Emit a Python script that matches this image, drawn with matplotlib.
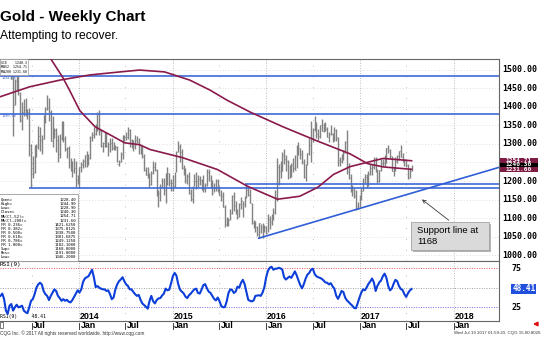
import numpy as np
import pandas as pd
import matplotlib
matplotlib.use('Agg')
import matplotlib.pyplot as plt
import matplotlib.dates as mdates
from matplotlib.patches import Rectangle
from matplotlib.transforms import blended_transform_factory as blend

plt.rcParams['font.family'] = ['Liberation Sans', 'DejaVu Sans']
MONO = 'DejaVu Sans Mono'

W, H = 550, 341

# weekly gold bars, weeks ending on Fridays, first one 2013-03-01
first_week = '2013-03-01'
highs = [
    1620, 1590, 1597, 1617, 1612, 1584, 1590, 1500, 1476, 1488, 1482, 1441, 1414, 1420, 1424, 1394,
    1397, 1300, 1267, 1297, 1300, 1349, 1345, 1323, 1377, 1399, 1433, 1423, 1391, 1375, 1343, 1344,
    1323, 1327, 1361, 1361, 1322, 1293, 1295, 1262, 1254, 1262, 1254, 1216,
    1238, 1250, 1259, 1271, 1280, 1274, 1321, 1332, 1345, 1355, 1385, 1392, 1341, 1306, 1331, 1331,
    1305, 1315, 1315, 1305, 1297, 1295, 1257, 1278, 1324, 1325, 1333, 1346, 1340, 1312, 1311, 1324,
    1321, 1315, 1296, 1295, 1272, 1238, 1237, 1222, 1226, 1255, 1250, 1232, 1177, 1192, 1208, 1207,
    1221, 1238, 1222, 1205,
    1216, 1224, 1282, 1307, 1300, 1287, 1244, 1236, 1220, 1224, 1178, 1187, 1220, 1224, 1216, 1214,
    1206, 1215, 1196, 1232, 1232, 1215, 1202, 1194, 1205, 1205, 1187, 1175, 1170, 1136, 1104, 1100,
    1126, 1162, 1170, 1146, 1124, 1142, 1156, 1146, 1160, 1191, 1180, 1179, 1142, 1095, 1092, 1080,
    1088, 1085, 1088, 1082,
    1080, 1112, 1105, 1112, 1127, 1175, 1263, 1246, 1254, 1279, 1287, 1271, 1258, 1244, 1249, 1261,
    1271, 1297, 1306, 1288, 1284, 1259, 1245, 1276, 1316, 1362, 1343, 1374, 1358, 1339, 1352, 1367,
    1357, 1359, 1346, 1331, 1352, 1329, 1345, 1340, 1318, 1264, 1273, 1284, 1308, 1338, 1248, 1220,
    1190, 1180, 1175, 1144, 1162,
    1182, 1207, 1219, 1220, 1226, 1245, 1245, 1264, 1264, 1233, 1231, 1260, 1260, 1270, 1290, 1296,
    1287, 1267, 1237, 1264, 1270, 1282, 1296, 1275, 1260, 1260, 1245, 1235, 1244,
]
lows = [
    1555, 1563, 1570, 1592, 1590, 1540, 1476, 1321, 1405, 1446, 1432, 1359, 1337, 1376, 1376, 1366,
    1268, 1180, 1207, 1221, 1266, 1285, 1282, 1272, 1314, 1357, 1392, 1363, 1307, 1292, 1316, 1277,
    1251, 1261, 1311, 1306, 1280, 1262, 1236, 1226, 1211, 1222, 1185, 1192,
    1182, 1224, 1236, 1238, 1238, 1242, 1260, 1309, 1315, 1323, 1336, 1324, 1291, 1277, 1292, 1292,
    1268, 1277, 1283, 1284, 1284, 1251, 1240, 1251, 1259, 1308, 1311, 1313, 1292, 1288, 1281, 1287,
    1302, 1273, 1273, 1261, 1228, 1215, 1207, 1183, 1190, 1219, 1227, 1161, 1131, 1145, 1180, 1162,
    1142, 1190, 1186, 1173,
    1172, 1183, 1225, 1278, 1251, 1233, 1216, 1195, 1193, 1164, 1147, 1141, 1186, 1178, 1185, 1189,
    1175, 1170, 1170, 1186, 1200, 1182, 1162, 1170, 1172, 1170, 1162, 1147, 1130, 1077, 1080, 1080,
    1094, 1110, 1118, 1112, 1098, 1102, 1124, 1104, 1131, 1155, 1159, 1141, 1084, 1073, 1062, 1052,
    1046, 1060, 1047, 1064,
    1058, 1063, 1071, 1082, 1095, 1112, 1147, 1190, 1208, 1228, 1246, 1228, 1206, 1208, 1212, 1225,
    1230, 1235, 1270, 1260, 1245, 1208, 1200, 1243, 1270, 1250, 1306, 1334, 1316, 1310, 1315, 1334,
    1332, 1335, 1320, 1306, 1323, 1305, 1309, 1308, 1241, 1241, 1248, 1257, 1275, 1220, 1205, 1171,
    1160, 1155, 1122, 1124, 1131,
    1148, 1172, 1195, 1180, 1188, 1216, 1215, 1232, 1224, 1195, 1198, 1228, 1240, 1240, 1248, 1276,
    1262, 1226, 1214, 1228, 1248, 1257, 1265, 1250, 1240, 1238, 1205, 1207, 1228,
]
closes = [
    1572, 1578, 1592, 1608, 1597, 1579, 1476, 1405, 1469, 1470, 1437, 1365, 1386, 1392, 1383, 1387,
    1297, 1234, 1223, 1277, 1295, 1322, 1310, 1312, 1376, 1395, 1396, 1387, 1308, 1333, 1338, 1310,
    1272, 1315, 1352, 1314, 1287, 1288, 1244, 1250, 1230, 1235, 1203, 1213,
    1237, 1247, 1254, 1270, 1240, 1263, 1318, 1324, 1326, 1340, 1380, 1335, 1294, 1303, 1318, 1294,
    1300, 1302, 1289, 1293, 1292, 1246, 1252, 1274, 1316, 1320, 1320, 1337, 1310, 1307, 1294, 1310,
    1306, 1280, 1287, 1268, 1231, 1216, 1218, 1192, 1222, 1239, 1231, 1171, 1169, 1185, 1201, 1175,
    1190, 1222, 1195, 1195,
    1186, 1216, 1277, 1293, 1279, 1234, 1228, 1204, 1213, 1167, 1152, 1182, 1199, 1201, 1206, 1203,
    1178, 1179, 1189, 1225, 1205, 1190, 1168, 1180, 1201, 1173, 1163, 1159, 1131, 1085, 1095, 1094,
    1113, 1160, 1134, 1121, 1103, 1137, 1145, 1137, 1156, 1177, 1162, 1141, 1088, 1081, 1076, 1057,
    1086, 1075, 1065, 1075,
    1061, 1097, 1090, 1097, 1116, 1157, 1238, 1227, 1222, 1270, 1259, 1254, 1217, 1222, 1243, 1234,
    1231, 1295, 1290, 1272, 1252, 1212, 1243, 1275, 1296, 1315, 1339, 1366, 1327, 1322, 1350, 1336,
    1336, 1341, 1320, 1327, 1328, 1310, 1338, 1316, 1257, 1254, 1267, 1276, 1304, 1225, 1208, 1178,
    1177, 1160, 1134, 1133, 1152,
    1173, 1196, 1210, 1191, 1220, 1234, 1239, 1257, 1227, 1201, 1229, 1249, 1249, 1254, 1288, 1284,
    1268, 1228, 1228, 1254, 1268, 1280, 1266, 1255, 1256, 1242, 1209, 1228, 1240.3,
]
rsi9 = [
    39.6, 42.5, 35.4, 20.8, 16.7, 27.1, 29.2, 20.8, 25.0, 28.3, 25.0, 25.8, 27.1, 20.8, 18.8, 17.5,
    25.0, 33.3, 35.4, 41.7, 50.0, 54.2, 56.3, 54.2, 45.8, 41.7, 39.6, 34.2, 39.6, 43.8, 47.9, 45.8,
    39.6, 36.7, 33.3, 35.4, 33.3, 34.6, 32.1, 31.3, 34.2, 38.3, 42.5, 46.7, 43.8, 47.9, 57.5, 61.7,
    63.3, 64.6, 68.8, 72.9, 63.3, 50.8, 52.1, 50.0, 48.8, 47.9, 47.9, 45.8, 46.7, 41.7, 35.4, 37.5,
    47.9, 54.2, 58.3, 60.4, 63.3, 58.3, 54.2, 52.1, 47.9, 47.9, 44.6, 41.7, 39.6,
    40.8, 34.6, 30.0, 27.9, 25.8, 23.3, 32.9, 39.6, 32.9, 30.0, 34.2, 36.3, 36.7, 40.0, 42.5, 48.8,
    46.7, 47.5, 55.4, 64.6, 68.8, 65.4, 54.6, 47.5, 45.0, 42.9, 38.8, 36.7, 40.4, 42.5, 45.4, 47.9,
    48.8, 43.3, 42.5, 47.5, 53.3, 54.6, 49.2, 45.0, 43.3, 39.6, 35.8, 33.8, 37.5, 32.9, 26.7, 25.0,
    25.4, 32.5, 43.3, 47.9, 47.1, 43.3, 45.0, 51.3, 50.0, 56.3, 60.0, 54.6, 44.6, 34.6, 33.3, 32.5,
    33.8, 39.6, 40.0, 40.4, 39.6, 43.8, 50.8, 63.3, 71.7, 75.4, 76.7,
    72.9, 74.2, 74.2, 75.4, 74.6, 72.9, 63.3, 60.4, 62.5, 64.2, 62.5, 66.7, 70.8, 65.8, 59.2, 53.3,
    49.2, 54.6, 61.7, 66.7, 68.8, 72.9, 74.2, 67.5, 64.6, 63.3, 62.5, 61.3, 59.2, 56.7, 56.3, 54.2,
    55.8, 51.7, 48.8, 40.0, 35.8, 40.4, 45.8, 44.6, 37.5, 33.8, 31.7, 29.2, 27.1, 24.2, 23.8, 30.4,
    37.5, 43.8, 47.9, 46.7, 50.4, 55.0, 57.9, 61.7, 56.7, 45.8, 52.5, 56.7, 59.2, 64.6, 67.9, 62.5,
    52.1, 46.7, 48.8, 55.0, 60.0, 58.3, 52.1, 48.3, 47.1, 41.7, 38.3, 42.9, 46.3, 48.41,
]

# moving averages
ma52_dates = ['2013-08-10', '2013-09-16', '2013-10-29', '2013-11-25', '2014-01-04', '2014-03-05',
              '2014-05-01', '2014-06-28', '2014-08-25', '2014-10-05', '2015-02-09', '2015-06-25',
              '2015-10-20', '2016-02-14', '2016-05-11', '2016-07-20', '2016-09-20', '2016-11-24',
              '2017-04-01', '2017-07-21']
ma52 = [1585, 1526, 1480, 1445, 1390, 1346, 1325, 1303, 1298, 1285, 1263, 1231,
        1186, 1151, 1159, 1183, 1218, 1239, 1261, 1254.71]
ma200_dates = ['2013-02-27', '2013-06-23', '2013-10-19', '2014-02-14', '2014-06-10', '2014-08-25',
               '2014-12-01', '2015-03-09', '2015-05-27', '2015-08-01', '2015-10-30', '2016-03-07',
               '2016-07-18', '2016-11-24', '2017-01-30', '2017-04-02', '2017-07-21']
ma200 = [1427, 1454, 1472, 1486, 1494, 1499, 1494, 1472, 1445, 1418, 1386, 1346,
         1308, 1273, 1247, 1238, 1231.60]

level_prices = [1484, 1380, 1191, 1180]
level_starts = ['2013-01-01', '2013-01-01', '2015-10-09', '2013-06-20']
trend_dates = ['2015-12-03', '2016-12-15']
trend_prices = [1046, 1123]

price_ticks = list(range(1000, 1501, 50))
price_labels = [1000, 1050, 1100, 1150, 1200, 1300, 1350, 1400, 1450, 1500]
last_labels = ['1254.71', '1240.30', '1231.60']
last_colors = ['#7d1b45', '#000000', '#7d1b45']
last_rsi = 48.41
years = [2014, 2015, 2016, 2017, 2018]
x_start, x_end = '2013-02-27', '2018-06-27'

table_rows = [('Open=', '1228.40'), ('High=', '1244.90'), ('Low=', '1228.90'), ('Close=', '1240.30'),
              ('MA(Cl,52)=', '1254.71'), ('MA(Cl,200)=', '1231.60'), ('FR 0.236=', '1421.6250'),
              ('FR 0.382=', '1375.8125'), ('FR 0.500=', '1338.7500'), ('FR 0.618=', '1301.6875'),
              ('FR 0.786=', '1249.1250'), ('FR 1.000=', '1182.1000'), ('Sup=', '1168.0000'),
              ('Res=', '1191.0000'), ('Low=', '1046.2000')]
legend_rows = ['GCE    1240.3', 'MA52  1254.71', 'MA200 1231.60']


def box(x0, y0, x1, y1):
    return [x0 / W, 1 - y1 / H, (x1 - x0) / W, (y1 - y0) / H]


def px(x, y):
    return (x / W, 1 - y / H)


fig = plt.figure(figsize=(W / 100, H / 100), dpi=100)
ax = fig.add_axes(box(0, 59, 499, 261))
ar = fig.add_axes(box(0, 261, 499, 321), sharex=ax)

weeks = mdates.date2num(pd.date_range(first_week, periods=len(closes), freq='W-FRI'))
x0n, x1n = mdates.datestr2num(x_start), mdates.datestr2num(x_end)

# price panel
for p in price_ticks:
    ax.axhline(p, color='#c4c4c4', lw=0.5, ls=(0, (1, 3)), zorder=1)
for y in years:
    ax.axvline(mdates.datestr2num(f'{y}-01-01'), color='#a8a8a8', lw=0.6, ls=(0, (1, 2)), zorder=1)
    ax.axvline(mdates.datestr2num(f'{y - 1}-07-01'), color='#a8a8a8', lw=0.6, ls=(0, (1, 12)), zorder=1)
    ar.axvline(mdates.datestr2num(f'{y}-01-01'), color='#a8a8a8', lw=0.6, ls=(0, (1, 2)), zorder=1)
    ar.axvline(mdates.datestr2num(f'{y - 1}-07-01'), color='#a8a8a8', lw=0.6, ls=(0, (1, 8)), zorder=1)

ax.vlines(weeks, lows, highs, color='#828282', lw=1.0, zorder=3)
ax.hlines(closes, weeks, weeks + 3, color='#828282', lw=0.7, zorder=3)

ax.hlines(level_prices, mdates.datestr2num(level_starts), x1n, color='#3c6ad8', lw=1.2, zorder=4)
t = mdates.datestr2num(trend_dates)
slope = (trend_prices[1] - trend_prices[0]) / (t[1] - t[0])
ax.plot([t[0], x1n], [trend_prices[0], trend_prices[0] + slope * (x1n - t[0])],
        color='#2f5ed6', lw=1.2, zorder=4)

ax.plot(mdates.datestr2num(ma52_dates), ma52, color='#8a1a4c', lw=1.2, zorder=5)
ax.plot(mdates.datestr2num(ma200_dates), ma200, color='#8a1a4c', lw=1.2, zorder=5)

ax.set_xlim(x0n, x1n)
ax.set_ylim(984.6, 1528.8)
for a in (ax, ar):
    a.set_xticks([])
    a.set_yticks([])
    a.spines['left'].set_visible(False)
    for s in ('top', 'bottom', 'right'):
        a.spines[s].set_color('#666666')
        a.spines[s].set_linewidth(0.8)

tr = blend(ax.transAxes, ax.transData)
for p in price_labels:
    ax.text(1.007, p, f'{p:.2f}', transform=tr, family=MONO, weight='bold',
            fontsize=6, va='center', ha='left')

# last-value boxes, stacked beside the price scale
for lab, col, yc in zip(last_labels, last_colors, [160.6, 165.0, 169.4]):
    fig.patches.append(Rectangle(px(500, yc + 2.2), 38 / W, 4.4 / H, transform=fig.transFigure,
                                 fc=col, ec='none', zorder=10))
    fig.text(519 / W, 1 - yc / H, lab, family=MONO, weight='bold', fontsize=4.4,
             color='white', va='center', ha='center', zorder=11)

# tiny level labels
ax.text(0.004, level_prices[0], '1484.00', transform=tr, fontsize=2.6, family=MONO,
        color='#5072c8', va='top')
ax.text(0.004, level_prices[1], '1380.00', transform=tr, fontsize=2.6, family=MONO,
        color='#5072c8', va='top')

# legend box (top left)
fig.patches.append(Rectangle(px(0, 75), 28 / W, 16 / H, transform=fig.transFigure,
                             fc='white', ec='#9a9a9a', lw=0.5, zorder=6))
for i, row in enumerate(legend_rows):
    fig.text(1 / W, 1 - (62.5 + 4.8 * i) / H, row, fontsize=2.3, family=MONO, va='center',
             zorder=7)

# data table (lower left)
fig.patches.append(Rectangle(px(-1, 261), 79 / W, 67 / H, transform=fig.transFigure,
                             fc='white', ec='#9a9a9a', lw=0.6, zorder=6))
for i, (k, v) in enumerate(table_rows):
    yy = 1 - (200 + 4.1 * i) / H
    fig.text(1 / W, yy, k, fontsize=2.9, family=MONO, va='center', zorder=7)
    fig.text(76 / W, yy, v, fontsize=2.9, family=MONO, va='center', ha='right', zorder=7)

# support annotation
fig.patches.append(Rectangle(px(413, 252), 78 / W, 28 / H, transform=fig.transFigure,
                             fc='#b5b5b5', ec='none', zorder=6))
fig.patches.append(Rectangle(px(411, 250), 78 / W, 28 / H, transform=fig.transFigure,
                             fc='#dadada', ec='#a2a2a2', lw=0.6, zorder=7))
fig.text(417 / W, 1 - 236 / H, 'Support line at\n1168', fontsize=6.8, va='center',
         ha='left', linespacing=1.15, zorder=8)
ax.annotate('', xy=(mdates.datestr2num('2017-08-22'), 1155), xycoords='data',
            xytext=px(451, 222), textcoords='figure fraction',
            arrowprops=dict(arrowstyle='->', color='#3a3a3a', lw=0.6, mutation_scale=6))

# RSI panel
ar.axhline(75, color='#e05a5a', lw=0.7, ls=(0, (1, 1.5)), zorder=1)
ar.axhline(50, color='#a0a0a0', lw=0.7, ls=(0, (1, 1.5)), zorder=1)
ar.axhline(25, color='#6f6fe6', lw=0.7, ls=(0, (1, 1.5)), zorder=1)
ar.plot(weeks, rsi9, color='#0c3fd9', lw=1.5, zorder=4)
ar.set_ylim(7.6, 84)
trr = blend(ar.transAxes, ar.transData)
for v in (25, 75):
    ar.text(1.026, v, str(v), transform=trr, family=MONO, weight='bold', fontsize=6,
            va='center', ha='left')
ar.text(1.073, last_rsi, f'{last_rsi:.2f}', transform=trr, family=MONO, weight='bold',
        fontsize=5.6, color='white', va='center', ha='right',
        bbox=dict(boxstyle='square,pad=0.12', fc='#1f4fdc', ec='none'))
ar.text(0.0, 0.985, 'RSI(9)', transform=ar.transAxes, family=MONO, fontsize=4.3,
        va='top', ha='left')
ar.text(0.0, 0.03, 'RSI(9)     48.41', transform=ar.transAxes, family=MONO, fontsize=3.4,
        va='bottom', ha='left')

# time axis
trx = blend(ar.transData, ar.transAxes)
for y in years:
    jan = mdates.datestr2num(f'{y}-01-01')
    ar.text(jan + 3, 0.04, str(y), transform=trx, fontsize=6.4, weight='bold', va='baseline')
    for d, lab in ((mdates.datestr2num(f'{y - 1}-07-01'), 'Jul'), (jan, 'Jan')):
        ar.plot([d, d], [-0.03, -0.13], transform=trx, color='#222222', lw=0.6, clip_on=False)
        ar.text(d + 6, -0.125, lab, transform=trx, fontsize=6.4, weight='bold', va='baseline')
fig.patches.append(Rectangle(px(0, 328), 3 / W, 6 / H, transform=fig.transFigure,
                             fc='none', ec='#444444', lw=0.5))

fig.text(0, 1 - 333 / H, 'CQG Inc. \u00a9 2017 All rights reserved worldwide. http://www.cqg.com',
         fontsize=3.4, color='#333333', va='center')
fig.text(540 / W, 1 - 333 / H, 'Wed Jul 19 2017 01:59:20, CQG 15.00.8026', fontsize=3.2,
         color='#333333', va='center', ha='right')
ax.annotate('', xy=px(530, 324), xytext=px(540, 324), xycoords='figure fraction',
            arrowprops=dict(arrowstyle='-|>', color='#e01010', lw=1.4, mutation_scale=5))

fig.text(0, 1 - 20.7 / H, 'Gold - Weekly Chart', fontsize=11, weight='bold', va='baseline')
fig.text(0, 1 - 39.3 / H, 'Attempting to recover.', fontsize=8.7, va='baseline')

fig.savefig('out.png', dpi=100)
